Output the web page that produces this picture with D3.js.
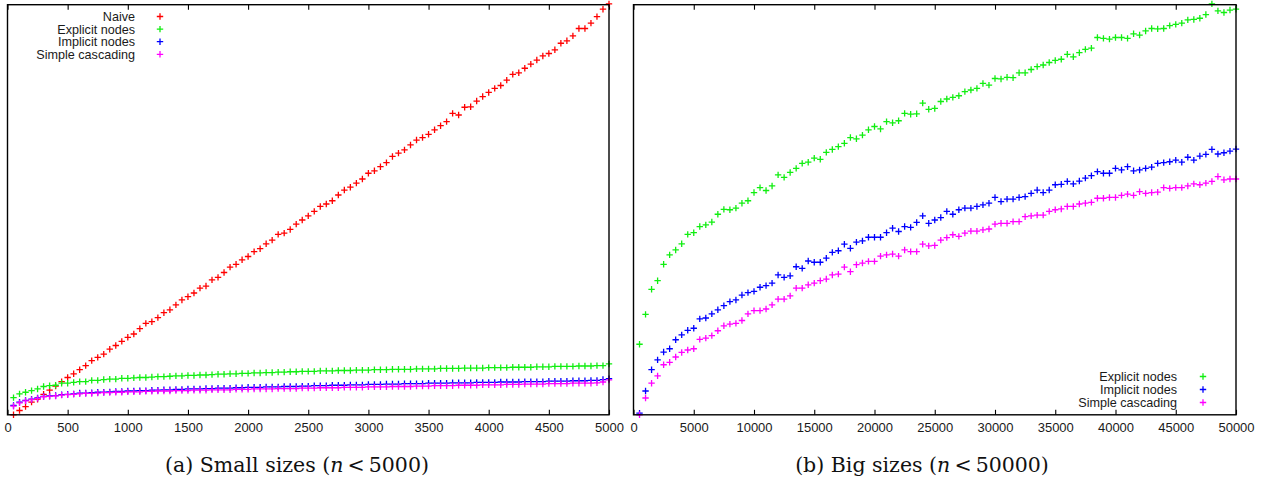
<!DOCTYPE html>
<html>
<head>
<meta charset="utf-8">
<script src="https://cdn.jsdelivr.net/npm/d3@7/dist/d3.min.js"></script>
<style>
  body { margin: 0; background: #fff; }
  svg { display: block; }
  .axis text { font-family: "Liberation Sans", Arial, sans-serif; font-size: 13px; fill: #1a1a1a; }
  .legend text { font-family: "Liberation Sans", Arial, sans-serif; font-size: 12.6px; fill: #1a1a1a; }
  .caption { font-family: "DejaVu Serif", serif; font-size: 20.5px; fill: #111; }
</style>
</head>
<body>
<div id="chart"></div>
<script>
// problem sizes (x values)
const smallSizes = [
  50, 100, 150, 200, 250, 300, 350, 400, 450, 500,
  550, 600, 650, 700, 750, 800, 850, 900, 950, 1000,
  1050, 1100, 1150, 1200, 1250, 1300, 1350, 1400, 1450, 1500,
  1550, 1600, 1650, 1700, 1750, 1800, 1850, 1900, 1950, 2000,
  2050, 2100, 2150, 2200, 2250, 2300, 2350, 2400, 2450, 2500,
  2550, 2600, 2650, 2700, 2750, 2800, 2850, 2900, 2950, 3000,
  3050, 3100, 3150, 3200, 3250, 3300, 3350, 3400, 3450, 3500,
  3550, 3600, 3650, 3700, 3750, 3800, 3850, 3900, 3950, 4000,
  4050, 4100, 4150, 4200, 4250, 4300, 4350, 4400, 4450, 4500,
  4550, 4600, 4650, 4700, 4750, 4800, 4850, 4900, 4950, 5000
]
const bigSizes = [
  500, 1000, 1500, 2000, 2500, 3000, 3500, 4000, 4500, 5000,
  5500, 6000, 6500, 7000, 7500, 8000, 8500, 9000, 9500, 10000,
  10500, 11000, 11500, 12000, 12500, 13000, 13500, 14000, 14500, 15000,
  15500, 16000, 16500, 17000, 17500, 18000, 18500, 19000, 19500, 20000,
  20500, 21000, 21500, 22000, 22500, 23000, 23500, 24000, 24500, 25000,
  25500, 26000, 26500, 27000, 27500, 28000, 28500, 29000, 29500, 30000,
  30500, 31000, 31500, 32000, 32500, 33000, 33500, 34000, 34500, 35000,
  35500, 36000, 36500, 37000, 37500, 38000, 38500, 39000, 39500, 40000,
  40500, 41000, 41500, 42000, 42500, 43000, 43500, 44000, 44500, 45000,
  45500, 46000, 46500, 47000, 47500, 48000, 48500, 49000, 49500, 50000
]

// measured times, small sizes (no y scale shown, relative units)
const naiveSmall = [
  0.0, 1.05, 2.0, 3.1, 3.8, 5.0, 6.0, 7.0, 8.1, 9.1,
  10.0, 11.0, 12.0, 13.2, 14.0, 14.8, 16.0, 16.9, 17.9, 18.9,
  19.7, 21.0, 22.3, 22.7, 23.7, 24.9, 25.6, 26.8, 28.0, 28.8,
  29.7, 30.9, 31.4, 32.9, 33.5, 34.7, 36.0, 36.7, 37.8, 38.6,
  39.8, 40.5, 41.7, 42.6, 44.0, 44.3, 45.2, 46.5, 47.5, 48.5,
  49.6, 50.8, 51.4, 52.2, 53.6, 54.8, 55.5, 56.5, 57.5, 58.9,
  59.5, 60.5, 61.5, 63.0, 63.8, 64.6, 65.8, 67.0, 67.6, 68.4,
  69.5, 70.5, 71.5, 73.5, 73.1, 75.0, 75.1, 76.5, 77.6, 78.6,
  79.6, 80.3, 81.6, 83.0, 83.4, 84.5, 85.5, 86.5, 87.5, 88.1,
  89.0, 90.6, 91.2, 92.4, 94.2, 94.2, 95.5, 97.1, 98.9, 100.2
]
const explicitSmall = [
  4.2, 5.1, 5.5, 5.9, 6.3, 6.9, 7.1, 7.2, 7.7, 7.7,
  7.9, 8.1, 8.1, 8.4, 8.4, 8.6, 8.7, 8.7, 8.9, 8.9,
  9.0, 9.1, 9.1, 9.2, 9.3, 9.3, 9.4, 9.5, 9.5, 9.6,
  9.6, 9.7, 9.7, 9.8, 9.9, 9.9, 10.0, 10.0, 10.1, 10.1,
  10.2, 10.2, 10.3, 10.3, 10.4, 10.4, 10.5, 10.5, 10.6, 10.6,
  10.6, 10.7, 10.7, 10.7, 10.8, 10.8, 10.8, 10.9, 10.9, 10.9,
  11.0, 11.0, 11.0, 11.1, 11.1, 11.1, 11.1, 11.2, 11.2, 11.2,
  11.2, 11.3, 11.3, 11.3, 11.3, 11.4, 11.4, 11.4, 11.4, 11.5,
  11.5, 11.5, 11.5, 11.6, 11.6, 11.6, 11.6, 11.7, 11.7, 11.7,
  11.8, 11.8, 11.8, 11.8, 11.9, 11.9, 11.9, 12.0, 12.0, 12.4
]
const implicitSmall = [
  2.3, 3.1, 3.5, 3.8, 4.1, 4.5, 4.6, 4.7, 4.9, 5.0,
  5.1, 5.3, 5.3, 5.4, 5.5, 5.5, 5.6, 5.7, 5.7, 5.8,
  5.8, 5.9, 5.9, 6.0, 6.0, 6.1, 6.1, 6.2, 6.2, 6.3,
  6.3, 6.3, 6.4, 6.4, 6.5, 6.5, 6.5, 6.6, 6.6, 6.7,
  6.7, 6.7, 6.8, 6.8, 6.8, 6.9, 6.9, 6.9, 7.0, 7.0,
  7.1, 7.1, 7.1, 7.2, 7.2, 7.2, 7.3, 7.3, 7.3, 7.4,
  7.4, 7.4, 7.5, 7.5, 7.5, 7.6, 7.6, 7.6, 7.6, 7.7,
  7.7, 7.7, 7.7, 7.8, 7.8, 7.8, 7.8, 7.9, 7.9, 7.9,
  7.9, 8.0, 8.0, 8.0, 8.0, 8.1, 8.1, 8.1, 8.1, 8.2,
  8.2, 8.2, 8.2, 8.3, 8.3, 8.3, 8.4, 8.4, 8.6, 8.8
]
const cascadeSmall = [
  2.1, 2.9, 3.4, 3.7, 4.0, 4.4, 4.5, 4.6, 4.8, 4.9,
  5.0, 5.1, 5.2, 5.2, 5.3, 5.4, 5.4, 5.5, 5.5, 5.6,
  5.6, 5.6, 5.7, 5.7, 5.8, 5.8, 5.8, 5.9, 5.9, 5.9,
  6.0, 6.0, 6.0, 6.1, 6.1, 6.1, 6.1, 6.2, 6.2, 6.2,
  6.3, 6.3, 6.3, 6.3, 6.4, 6.4, 6.4, 6.4, 6.5, 6.5,
  6.5, 6.6, 6.6, 6.6, 6.6, 6.7, 6.7, 6.7, 6.7, 6.8,
  6.8, 6.8, 6.8, 6.9, 6.9, 6.9, 6.9, 7.0, 7.0, 7.0,
  7.1, 7.1, 7.1, 7.1, 7.2, 7.2, 7.2, 7.2, 7.3, 7.3,
  7.3, 7.3, 7.4, 7.4, 7.4, 7.5, 7.5, 7.5, 7.5, 7.6,
  7.6, 7.6, 7.6, 7.7, 7.7, 7.7, 7.7, 7.8, 8.0, 8.5
]

// measured times, big sizes
const explicitBig = [
  17.2, 24.5, 30.6, 32.7, 36.7, 39.0, 40.2, 41.7, 44.0, 44.4,
  45.9, 46.3, 47.0, 48.9, 50.1, 50.0, 50.4, 51.6, 52.2, 54.2,
  55.4, 54.7, 55.8, 58.5, 57.9, 59.1, 60.1, 61.3, 61.6, 62.6,
  62.3, 64.0, 64.7, 65.4, 66.2, 67.6, 67.3, 68.2, 69.5, 70.3,
  69.7, 71.5, 71.2, 71.7, 73.5, 73.3, 73.4, 76.0, 74.5, 74.7,
  76.4, 77.0, 77.4, 77.8, 78.8, 79.2, 79.6, 80.8, 80.4, 82.0,
  81.9, 82.3, 82.2, 83.4, 83.4, 84.2, 84.9, 85.3, 85.9, 86.4,
  86.7, 87.9, 87.3, 88.3, 89.1, 89.4, 92.0, 91.8, 91.6, 92.0,
  92.0, 91.8, 92.9, 92.6, 93.6, 94.2, 94.1, 94.2, 94.9, 95.2,
  95.5, 96.3, 96.4, 96.7, 97.6, 100.2, 98.5, 98.1, 98.7, 98.9
]
const implicitBig = [
  0.4, 5.8, 11.0, 13.4, 15.3, 16.1, 18.3, 19.5, 20.6, 21.1,
  23.4, 23.6, 24.6, 25.6, 26.6, 27.6, 28.0, 29.2, 29.8, 30.1,
  31.1, 31.5, 32.1, 34.1, 33.5, 33.9, 36.1, 35.7, 37.5, 37.2,
  37.2, 38.2, 39.6, 40.0, 41.6, 40.6, 42.1, 42.4, 43.3, 43.3,
  43.3, 44.4, 45.5, 44.7, 45.9, 45.7, 46.9, 48.5, 46.7, 47.5,
  48.1, 49.6, 48.9, 50.0, 50.4, 50.4, 50.8, 51.2, 51.6, 53.0,
  52.0, 52.6, 52.6, 53.0, 53.2, 54.0, 54.8, 54.2, 54.8, 56.1,
  56.2, 56.9, 56.3, 57.0, 57.7, 58.3, 59.3, 58.9, 58.9, 60.1,
  59.7, 60.5, 59.5, 59.7, 60.1, 60.4, 61.3, 61.5, 61.7, 62.1,
  61.6, 62.8, 62.1, 63.1, 63.5, 64.7, 63.6, 63.9, 64.3, 64.8
]
const cascadeBig = [
  0.0, 4.1, 7.7, 9.5, 12.2, 12.8, 14.1, 15.2, 15.8, 16.1,
  18.4, 18.7, 19.3, 20.5, 21.7, 22.1, 22.3, 23.0, 24.6, 25.4,
  25.4, 25.8, 26.8, 28.2, 28.2, 29.0, 30.9, 30.9, 31.7, 32.1,
  32.7, 33.1, 34.1, 34.3, 36.0, 34.9, 36.6, 37.0, 37.4, 37.4,
  38.7, 39.0, 39.2, 38.7, 40.2, 39.8, 39.8, 41.6, 41.2, 41.3,
  42.6, 43.2, 43.9, 43.5, 44.3, 44.8, 44.8, 45.1, 45.3, 46.5,
  46.7, 46.7, 47.1, 47.1, 48.3, 48.5, 48.7, 48.7, 49.6, 50.0,
  50.2, 50.8, 50.8, 51.4, 51.6, 51.8, 52.8, 52.8, 53.0, 53.0,
  53.5, 53.8, 53.5, 54.4, 54.0, 54.2, 54.3, 55.4, 55.2, 55.4,
  55.4, 55.8, 56.3, 56.1, 56.5, 56.9, 58.1, 57.3, 57.5, 57.5
]

const smallTicks = [0, 500, 1000, 1500, 2000, 2500, 3000, 3500, 4000, 4500, 5000]
const bigTicks = [0, 5000, 10000, 15000, 20000, 25000, 30000, 35000, 40000, 45000, 50000]

const colors = {
  naive: '#ff0000',
  explicit: '#11ee11',
  implicit: '#0000ff',
  cascade: '#ff00ff'
}

const width = 1267
const height = 484

const svg = d3.select('#chart')
  .append('svg')
    .attr('width', width)
    .attr('height', height)

// plus marker, gnuplot style
const plus = 'M-3.2,0H3.2M0,-3.2V3.2'

function drawPanel (cfg) {
  const { left, right, top, bottom, domain, ticks, series, legend } = cfg
  const x = d3.scaleLinear().domain(domain).range([left, right])
  const y = d3.scaleLinear().domain([0, 100]).range([bottom, top])
  const g = svg.append('g')

  // bottom axis, ticks pointing inward
  const xAxis = g.append('g')
    .attr('class', 'axis')
    .attr('transform', `translate(0,${bottom})`)
    .call(d3.axisBottom(x).tickValues(ticks).tickSize(-5).tickPadding(8).tickFormat(d3.format('d')))
  xAxis.select('.domain').remove()
  xAxis.selectAll('line').attr('stroke', '#000').attr('stroke-width', 1.1)

  // top mirror ticks
  const topAxis = g.append('g')
    .attr('class', 'axis')
    .attr('transform', `translate(0,${top})`)
    .call(d3.axisTop(x).tickValues(ticks).tickSize(-5).tickFormat(''))
  topAxis.select('.domain').remove()
  topAxis.selectAll('line').attr('stroke', '#000').attr('stroke-width', 1.1)

  // points
  series.forEach(s => {
    g.append('g')
      .selectAll('path')
      .data(s.values.map((v, i) => [s.sizes[i], v]))
      .join('path')
        .attr('d', plus)
        .attr('transform', d => `translate(${x(d[0])},${y(d[1])})`)
        .attr('fill', 'none')
        .attr('stroke', s.color)
        .attr('stroke-width', 1.3)
  })

  // frame
  g.append('rect')
    .attr('x', left)
    .attr('y', top)
    .attr('width', right - left)
    .attr('height', bottom - top)
    .attr('fill', 'none')
    .attr('stroke', '#000')
    .attr('stroke-width', 1.4)

  // legend
  const lg = g.append('g').attr('class', 'legend')
  series.forEach((s, i) => {
    const ly = legend.y + i * legend.step
    lg.append('text')
      .attr('x', legend.textX)
      .attr('y', ly)
      .attr('dy', '0.35em')
      .attr('text-anchor', 'end')
      .text(s.name)
    lg.append('path')
      .attr('d', plus)
      .attr('transform', `translate(${legend.markX},${ly})`)
      .attr('fill', 'none')
      .attr('stroke', s.color)
      .attr('stroke-width', 1.3)
  })
}

drawPanel({
  left: 7.5, right: 609, top: 4.7, bottom: 414.8,
  domain: [0, 5000],
  ticks: smallTicks,
  series: [
    { name: 'Naive', sizes: smallSizes, values: naiveSmall, color: colors.naive },
    { name: 'Explicit nodes', sizes: smallSizes, values: explicitSmall, color: colors.explicit },
    { name: 'Implicit nodes', sizes: smallSizes, values: implicitSmall, color: colors.implicit },
    { name: 'Simple cascading', sizes: smallSizes, values: cascadeSmall, color: colors.cascade }
  ],
  legend: { textX: 135, markX: 160, y: 16.5, step: 12.6 }
})

drawPanel({
  left: 633.5, right: 1236, top: 4.7, bottom: 414.8,
  domain: [0, 50000],
  ticks: bigTicks,
  series: [
    { name: 'Explicit nodes', sizes: bigSizes, values: explicitBig, color: colors.explicit },
    { name: 'Implicit nodes', sizes: bigSizes, values: implicitBig, color: colors.implicit },
    { name: 'Simple cascading', sizes: bigSizes, values: cascadeBig, color: colors.cascade }
  ],
  legend: { textX: 1177, markX: 1203, y: 376.5, step: 13 }
})

// captions under each panel
function caption (cx, label, limit) {
  const t = svg.append('text')
    .attr('class', 'caption')
    .attr('x', cx)
    .attr('y', 471.5)
    .attr('text-anchor', 'middle')
  t.append('tspan').text(`${label} (`)
  t.append('tspan').attr('font-style', 'italic').text('n')
  t.append('tspan').text(`\u2009<\u2009${limit})`)
}
caption(297, '(a) Small sizes', '5000')
caption(922, '(b) Big sizes', '50000')
</script>
</body>
</html>
